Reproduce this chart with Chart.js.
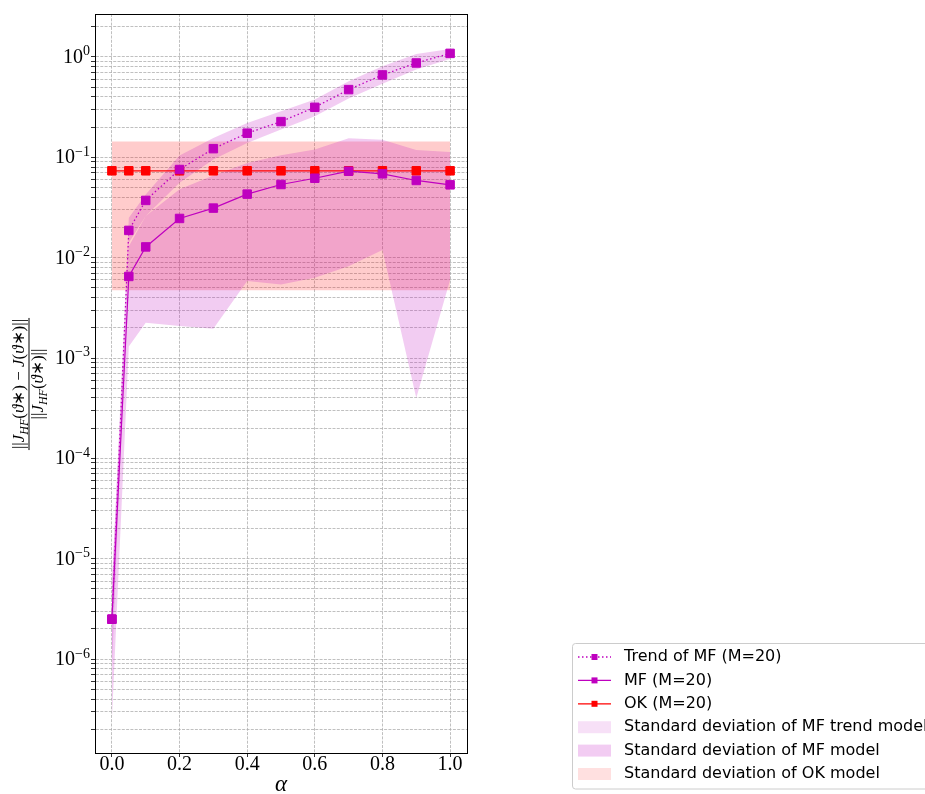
<!DOCTYPE html>
<html>
<head>
<meta charset="utf-8">
<script src="https://cdn.jsdelivr.net/npm/chart.js@4.4.0/dist/chart.umd.min.js"></script>
<style>
  html, body { margin: 0; padding: 0; background: #fff; }
</style>
</head>
<body>
<canvas id="errChart" width="925" height="794"></canvas>
<script>
// alpha values (x)
const alphas = [0, 0.05, 0.1, 0.2, 0.3, 0.4, 0.5, 0.6, 0.7, 0.8, 0.9, 1.0];

// mean relative errors
const trendMF = [2.5e-6, 0.0187, 0.0372, 0.0756, 0.122, 0.174, 0.227, 0.315, 0.473, 0.662, 0.871, 1.086];
const mfVals  = [2.5e-6, 0.0065, 0.0128, 0.0246, 0.0312, 0.043, 0.0536, 0.0619, 0.0727, 0.0685, 0.0588, 0.0532];
const okVals  = [0.0734, 0.0734, 0.0734, 0.0734, 0.0734, 0.0734, 0.0734, 0.0734, 0.0734, 0.0734, 0.0734, 0.0734];

// standard deviation bands (upper / lower edges)
const trendUpper = [5e-6, 0.025, 0.0426, 0.104, 0.156, 0.220, 0.288, 0.376, 0.572, 0.807, 1.07, 1.20];
const trendLower = [8e-7, 0.0141, 0.026, 0.0557, 0.095, 0.139, 0.189, 0.256, 0.385, 0.542, 0.748, 0.955];
const mfUpper = [6e-6, 0.013, 0.026, 0.048, 0.066, 0.088, 0.105, 0.12, 0.155, 0.15, 0.118, 0.113];
const mfLower = [2.5e-7, 0.0013, 0.00225, 0.00209, 0.00196, 0.00585, 0.00542, 0.0063, 0.0082, 0.0119, 0.0004, 0.006];
const okUpper = [0.1436, 0.1436, 0.1436, 0.1436, 0.1436, 0.1436, 0.1436, 0.1436, 0.1436, 0.1436, 0.1436, 0.1436];
const okLower = [0.00473, 0.00473, 0.00473, 0.00473, 0.00473, 0.00473, 0.00473, 0.00473, 0.00473, 0.00473, 0.00473, 0.00473];

// axes
const xTicks = [0, 0.2, 0.4, 0.6, 0.8, 1.0];
const xMin = -0.05, xMax = 1.05;
const yMin = 1.16e-7, yMax = 2.68;
const yExps = [-7, -6, -5, -4, -3, -2, -1, 0];

const legendLabels = [
    'Trend of MF (M=20)',
    'MF (M=20)',
    'OK (M=20)',
    'Standard deviation of MF trend model',
    'Standard deviation of MF model',
    'Standard deviation of OK model'
];

const MAGENTA = '#bf00bf';
const RED = '#ff0000';

// log ticks 1..9 x 10^n inside the range
let yTicks = [];
yExps.forEach(e => {
    for (let k = 1; k <= 9; k++) {
        const v = parseFloat((k * Math.pow(10, e)).toPrecision(3));
        if (v >= yMin && v <= yMax) yTicks.push(v);
    }
});

function decade(v) {
    const e = Math.log10(v);
    if (Math.abs(e - Math.round(e)) > 1e-6) return null;
    return Math.round(e);
}

function pts(ys) {
    return alphas.map((a, i) => ({x: a, y: ys[i]}));
}

function band(data, color) {
    return {
        data: pts(data),
        borderColor: 'rgba(0,0,0,0)',
        borderWidth: 0,
        pointRadius: 0,
        backgroundColor: color,
        fill: false
    };
}

function drawPieces(ctx, pieces, x, y) {
    let cx = x;
    pieces.forEach(p => {
        ctx.font = p[1];
        ctx.fillText(p[0], cx, y + (p[2] || 0));
        cx += ctx.measureText(p[0]).width;
    });
}

function piecesWidth(ctx, pieces) {
    let w = 0;
    pieces.forEach(p => { ctx.font = p[1]; w += ctx.measureText(p[0]).width; });
    return w;
}

// 10^n labels with a real superscript, placed on the log scale's ticks
const yTickLabelPlugin = {
    id: 'yTickLabels',
    afterDraw(chart) {
        const scale = chart.scales.y;
        const ctx = chart.ctx;
        ctx.save();
        ctx.fillStyle = '#000';
        ctx.textBaseline = 'alphabetic';
        scale.ticks.forEach(t => {
            const e = decade(t.value);
            if (e === null) return;
            const py = scale.getPixelForValue(t.value);
            const expText = e < 0 ? '\u2212' + Math.abs(e) : String(e);
            ctx.font = '14px "Liberation Serif"';
            const we = ctx.measureText(expText).width;
            ctx.textAlign = 'left';
            ctx.fillText(expText, 90 - we, py - 1.6);
            ctx.font = '20px "Liberation Serif"';
            ctx.textAlign = 'right';
            ctx.fillText('10', 90 - we, py + 6);
        });
        ctx.restore();
    }
};

// y axis label drawn as a small fraction
const yLabelPlugin = {
    id: 'yLabel',
    afterDraw(chart) {
        const ctx = chart.ctx;
        const R = '17px "Liberation Serif"';
        const I = 'italic 17px "Liberation Serif"';
        const S = 'italic 12px "Liberation Serif"';
        const term = [['J', I], ['HF', S, 4], ['(', R], ['\u03D1', I], ['\u2217', R], [')', R]];
        const num = [['||', R]].concat(term, [[' \u2212 ', R], ['J', I], ['(', R], ['\u03D1', I], ['\u2217', R], [')', R], ['||', R]]);
        const den = [['||', R]].concat(term, [['||', R]]);
        ctx.save();
        ctx.translate(29, 384);
        ctx.rotate(-Math.PI / 2);
        ctx.fillStyle = '#000';
        ctx.textBaseline = 'alphabetic';
        const wn = piecesWidth(ctx, num);
        const wd = piecesWidth(ctx, den);
        drawPieces(ctx, num, -wn / 2, -5);
        drawPieces(ctx, den, -wd / 2, 14);
        ctx.fillRect(-wn / 2 - 1, -0.5, wn + 2, 1);
        ctx.restore();
    }
};

const framePlugin = {
    id: 'frame',
    afterDraw(chart) {
        const a = chart.chartArea;
        const ctx = chart.ctx;
        ctx.save();
        ctx.strokeStyle = '#000';
        ctx.lineWidth = 1;
        ctx.strokeRect(Math.round(a.left) + 0.5, Math.round(a.top) + 0.5,
                       Math.round(a.right - a.left), Math.round(a.bottom - a.top));
        ctx.restore();
    }
};

const legendPlugin = {
    id: 'boxLegend',
    afterDraw(chart) {
        const ctx = chart.ctx;
        const x0 = 572.5, y0 = 643.5, h = 145.5;
        ctx.save();
        ctx.fillStyle = 'rgba(255,255,255,0.8)';
        ctx.strokeStyle = '#cccccc';
        ctx.lineWidth = 1;
        ctx.beginPath();
        ctx.roundRect(x0, y0, 420, h, 3);
        ctx.fill();
        ctx.stroke();

        const styles = [
            {kind: 'line', color: MAGENTA, dash: [1.5, 2.5]},
            {kind: 'line', color: MAGENTA, dash: []},
            {kind: 'line', color: RED, dash: []},
            {kind: 'patch', color: 'rgba(191,0,191,0.12)'},
            {kind: 'patch', color: 'rgba(191,0,191,0.2)'},
            {kind: 'patch', color: 'rgba(255,0,0,0.12)'}
        ];
        ctx.font = '16px "DejaVu Sans"';
        ctx.textBaseline = 'middle';
        legendLabels.forEach((label, i) => {
            const y = 657 + i * 23.4;
            const s = styles[i];
            if (s.kind === 'line') {
                ctx.strokeStyle = s.color;
                ctx.lineWidth = 1.3;
                ctx.setLineDash(s.dash);
                ctx.beginPath();
                ctx.moveTo(578, y);
                ctx.lineTo(611, y);
                ctx.stroke();
                ctx.setLineDash([]);
                ctx.fillStyle = s.color;
                ctx.fillRect(591.5, y - 3, 6, 6);
            } else {
                ctx.fillStyle = s.color;
                ctx.fillRect(578, y - 6, 33, 12);
            }
            ctx.fillStyle = '#000';
            ctx.fillText(label, 624, y);
        });
        ctx.restore();
    }
};

const gridOpts = { color: '#b0b0b0', lineWidth: 0.8, tickColor: '#000', tickLength: 4, drawTicks: true };
const borderOpts = { dash: [3, 1.3], color: '#000', width: 1 };

function lineSet(data, color, width, dash) {
    return {
        data: pts(data), borderColor: color, borderWidth: width, borderDash: dash,
        pointStyle: 'rect', pointRadius: 6, pointBackgroundColor: color, pointBorderColor: color,
        pointBorderWidth: 1, fill: false, tension: 0
    };
}

const ctx = document.getElementById('errChart').getContext('2d');
new Chart(ctx, {
    type: 'line',
    data: {
        datasets: [
            lineSet(trendMF, MAGENTA, 1.3, [1.5, 2.5]),
            lineSet(mfVals, MAGENTA, 1.2, []),
            lineSet(okVals, RED, 1.2, []),
            Object.assign(band(trendUpper, 'rgba(191,0,191,0.2)'), {fill: '+1'}),
            band(trendLower, 'rgba(191,0,191,0.2)'),
            Object.assign(band(mfUpper, 'rgba(191,0,191,0.2)'), {fill: '+1'}),
            band(mfLower, 'rgba(191,0,191,0.2)'),
            Object.assign(band(okUpper, 'rgba(255,0,0,0.2)'), {fill: '+1'}),
            band(okLower, 'rgba(255,0,0,0.2)')
        ]
    },
    options: {
        responsive: false,
        animation: false,
        layout: { padding: { left: 0, top: 14, right: 458, bottom: 0 } },
        plugins: {
            legend: { display: false },
            tooltip: { enabled: false },
            filler: { drawTime: 'beforeDatasetsDraw' }
        },
        scales: {
            x: {
                type: 'linear', min: xMin, max: xMax,
                afterBuildTicks: s => { s.ticks = xTicks.map(v => ({value: v})); },
                afterFit: s => { s.height = 41; },
                ticks: {
                    callback: v => v.toFixed(1),
                    font: { family: 'Liberation Serif', size: 20 }, color: '#000',
                    padding: -4, maxRotation: 0, autoSkip: false
                },
                grid: gridOpts,
                border: borderOpts,
                title: {
                    display: true, text: '\u03B1', color: '#000', padding: 0,
                    font: { family: 'Liberation Serif', size: 23, style: 'italic', lineHeight: 0.8 }
                }
            },
            y: {
                type: 'logarithmic', min: yMin, max: yMax,
                afterBuildTicks: s => { s.ticks = yTicks.map(v => ({value: v})); },
                afterFit: s => { s.width = 95; },
                ticks: { display: false, autoSkip: false },
                grid: gridOpts,
                border: borderOpts
            }
        }
    },
    plugins: [yTickLabelPlugin, yLabelPlugin, framePlugin, legendPlugin]
});
</script>
</body>
</html>
